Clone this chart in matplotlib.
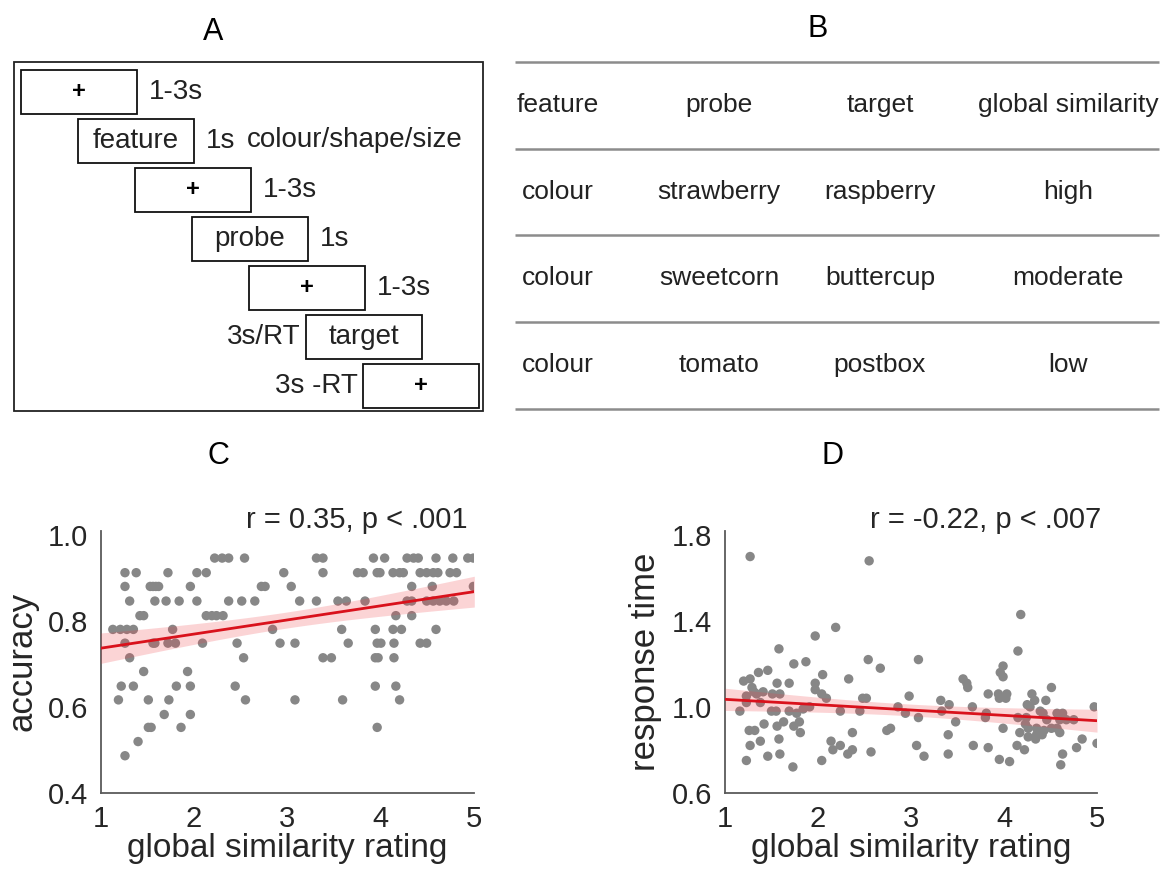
import numpy as np
import matplotlib
matplotlib.use('Agg')
import matplotlib.pyplot as plt
from matplotlib.patches import Rectangle

plt.rcParams['font.family'] = ['Liberation Sans', 'DejaVu Sans']

# ---- panel B table
table_rows = [
    ['feature', 'probe', 'target', 'global similarity'],
    ['colour', 'strawberry', 'raspberry', 'high'],
    ['colour', 'sweetcorn', 'buttercup', 'moderate'],
    ['colour', 'tomato', 'postbox', 'low'],
]

# ---- panel A trial sequence (box label, duration text left/right of box)
seq_labels = ['+', 'feature', '+', 'probe', '+', 'target', '+']
seq_durations = ['1-3s', '1s', '1-3s', '1s', '1-3s', '3s/RT', '3s -RT']
seq_side = ['right', 'right', 'right', 'right', 'right', 'left', 'left']

# ---- panel C: global similarity rating vs accuracy
sim_c = [2.22, 2.30, 2.37, 2.54, 3.31, 3.38, 3.92, 4.04, 4.28, 4.35, 4.40, 4.59, 4.77, 4.93, 4.99,
         1.26, 1.38, 1.72, 2.03, 2.13, 2.96, 3.38, 3.75, 3.81, 3.96, 3.99, 4.13, 4.20, 4.24, 4.42, 4.49, 4.56, 4.61, 4.74, 4.81,
         1.26, 1.53, 1.56, 1.59, 1.62, 1.96, 2.72, 2.76, 3.04, 4.33, 4.55, 4.99,
         1.31, 1.58, 1.70, 1.84, 2.03, 2.37, 2.51, 2.65, 3.13, 3.31, 3.54, 3.63, 3.83, 4.28, 4.33, 4.49, 4.56, 4.63, 4.70, 4.78,
         1.42, 1.46, 2.13, 2.19, 2.24, 2.31, 4.16, 4.33,
         1.13, 1.21, 1.28, 1.35, 1.77, 2.84, 3.58, 3.94, 4.13, 4.22, 4.59,
         1.26, 1.56, 1.58, 1.72, 1.80, 2.09, 2.46, 2.92, 3.08, 3.65, 3.96, 4.00, 4.14, 4.42, 4.49,
         1.31, 2.53, 3.38, 3.47, 3.94, 3.97, 4.14,
         1.46, 1.93,
         1.22, 1.35, 1.81, 1.96, 2.44, 3.94, 4.16,
         1.19, 1.51, 1.73, 2.55, 3.08, 3.59, 4.20,
         1.68, 1.96,
         1.51, 1.54, 1.86, 3.96,
         1.40,
         1.26]
acc_c = [0.946] * 15 + [0.912] * 20 + [0.880] * 12 + [0.846] * 20 + [0.812] * 8 + \
        [0.780] * 11 + [0.748] * 15 + [0.714] * 7 + [0.682] * 2 + [0.648] * 7 + \
        [0.616] * 7 + [0.582] * 2 + [0.552] * 4 + [0.519] * 1 + [0.486] * 1

# ---- panel D: global similarity rating vs response time
sim_d = [1.27, 2.55, 2.19, 1.97, 1.58, 2.54, 1.74, 1.87, 2.67, 3.08, 1.36, 1.46, 1.20, 1.27, 2.05,
         2.33, 1.56, 1.69, 1.97, 1.97, 1.29, 1.31, 1.34, 1.41, 1.51, 1.59, 1.23, 1.23, 2.04, 2.09,
         1.38, 2.48, 2.52, 2.98, 2.86, 1.16, 1.50, 1.55, 1.69, 1.77, 1.84, 1.91, 2.24, 2.45, 2.94,
         3.08, 1.42, 1.56, 1.63, 1.74, 1.80, 1.26, 1.32, 1.81, 2.37, 2.74, 2.78, 1.58, 1.27, 1.38,
         2.14, 2.24, 2.16, 2.32, 2.37, 3.06, 1.23, 1.46, 1.59, 2.04, 2.57, 1.73,
         4.18, 4.15, 3.99, 3.96, 3.99, 3.56, 3.60, 3.61, 4.51, 3.83, 3.94, 4.03, 3.95, 4.02, 4.30,
         3.32, 3.41, 4.33, 4.45, 4.28, 4.25, 4.97, 3.66, 3.33, 3.81, 3.80, 4.15, 4.24, 4.39, 4.42,
         4.46, 4.57, 4.63, 4.60, 4.67, 4.75, 3.48, 4.23, 4.17, 4.26, 3.99, 4.35, 4.43, 4.51, 4.57,
         4.60, 3.40, 4.26, 4.34, 4.41, 4.35, 3.14, 4.84, 4.78, 5.00, 3.67, 3.83, 4.14, 4.22, 3.40,
         3.95, 4.06, 4.63, 4.61]
rt_d = [1.70, 1.68, 1.37, 1.33, 1.27, 1.22, 1.20, 1.21, 1.18, 1.22, 1.16, 1.17, 1.12, 1.13, 1.15,
        1.13, 1.11, 1.11, 1.11, 1.08, 1.09, 1.07, 1.06, 1.07, 1.06, 1.06, 1.05, 1.02, 1.06, 1.04,
        1.02, 1.04, 1.04, 1.05, 1.00, 0.98, 0.98, 0.98, 0.98, 0.97, 0.99, 1.00, 0.98, 0.98, 0.97,
        0.95, 0.92, 0.91, 0.93, 0.91, 0.93, 0.89, 0.89, 0.88, 0.88, 0.89, 0.90, 0.85, 0.82, 0.84,
        0.84, 0.82, 0.80, 0.78, 0.80, 0.82, 0.75, 0.77, 0.78, 0.75, 0.79, 0.72,
        1.43, 1.26, 1.19, 1.16, 1.14, 1.13, 1.11, 1.09, 1.09, 1.06, 1.06, 1.06, 1.04, 1.04, 1.06,
        1.03, 1.01, 1.03, 1.03, 1.00, 1.01, 1.00, 1.00, 0.98, 0.97, 0.95, 0.95, 0.95, 0.98, 0.97,
        0.94, 0.97, 0.97, 0.94, 0.94, 0.94, 0.93, 0.92, 0.88, 0.90, 0.90, 0.90, 0.89, 0.90, 0.90,
        0.88, 0.87, 0.86, 0.85, 0.87, 0.87, 0.77, 0.85, 0.81, 0.83, 0.82, 0.81, 0.82, 0.80, 0.78,
        0.755, 0.745, 0.78, 0.73]

W, H = 1166, 873
fig = plt.figure(figsize=(W / 100, H / 100), dpi=100)
bg = fig.add_axes([0, 0, 1, 1])
bg.set_xlim(0, W)
bg.set_ylim(H, 0)
bg.axis('off')

# panel letters
for lab, (tx, ty) in zip('ABCD', [(213, 32), (818, 29), (218, 456), (832, 456)]):
    bg.text(tx, ty, lab, fontsize=22, ha='center', va='center')

# ---- panel A
bg.add_patch(Rectangle((13.5, 62), 469, 348.5, fill=False, ec='#222222', lw=1.3))
bw, bh = 116, 44
for i, (lab, dur, side) in enumerate(zip(seq_labels, seq_durations, seq_side)):
    x0 = 21 + i * 57
    y0 = 70 + i * 49
    bg.add_patch(Rectangle((x0, y0), bw, bh, fill=False, ec='#111111', lw=1.3))
    cy = y0 + bh / 2
    if lab == '+':
        bg.text(x0 + bw / 2, cy, lab, fontsize=17, fontweight='bold', ha='center', va='center')
    else:
        bg.text(x0 + bw / 2, cy, lab, fontsize=20, ha='center', va='center', color='#222222')
    if side == 'right':
        bg.text(x0 + bw + 12, cy, dur, fontsize=20, ha='left', va='center', color='#222222')
    else:
        bg.text(x0 - 5, cy, dur, fontsize=20, ha='right', va='center', color='#222222')
bg.text(247, 140, 'colour/shape/size', fontsize=20, ha='left', va='center', color='#222222')

# ---- panel B
line_y = [62, 148.5, 235, 321.5, 408.5]
bg.hlines(line_y, 515, 1159, color='#8c8c8c', lw=1.8)
col_x = [558, 719, 880, 1068]
for r, row in enumerate(table_rows):
    for c, txt in enumerate(row):
        bg.text(col_x[c], (line_y[r] + line_y[r + 1]) / 2, txt, fontsize=19,
                ha='center', va='center', color='#222222')


def fit_band(ax, x, y):
    x = np.asarray(x)
    y = np.asarray(y)
    b, a = np.polyfit(x, y, 1)
    xs = np.linspace(1, 5, 100)
    n = len(x)
    yhat = a + b * xs
    s = np.sqrt(((y - (a + b * x)) ** 2).sum() / (n - 2))
    se = s * np.sqrt(1.0 / n + (xs - x.mean()) ** 2 / ((x - x.mean()) ** 2).sum())
    ax.fill_between(xs, yhat - 1.98 * se, yhat + 1.98 * se, color='#f03c44', alpha=0.22, lw=0, zorder=3)
    ax.plot(xs, yhat, color='#d9121c', lw=2, zorder=4)


def style(ax):
    ax.set_facecolor('none')
    for s in ['top', 'right']:
        ax.spines[s].set_visible(False)
    for s in ['left', 'bottom']:
        ax.spines[s].set_color('#5a5a5a')
        ax.spines[s].set_linewidth(1.3)
    ax.tick_params(length=0, labelsize=21, pad=9, labelcolor='#262626')
    ax.set_xlim(1, 5)
    ax.set_xticks([1, 2, 3, 4, 5])
    ax.set_xlabel('global similarity rating', fontsize=24, color='#262626', labelpad=0)


# ---- panel C
axC = fig.add_axes([100.7 / W, (H - 792.7) / H, 373.6 / W, 261.7 / H])
axC.scatter(sim_c, acc_c, s=46, color='#878787', edgecolors='none', zorder=2)
fit_band(axC, sim_c, acc_c)
style(axC)
axC.set_ylim(0.4, 1.009)
axC.set_yticks([0.4, 0.6, 0.8, 1.0])
axC.set_yticklabels(['0.4', '0.6', '0.8', '1.0'])
axC.set_ylabel('accuracy', fontsize=25, color='#262626', labelpad=7)
bg.text(467, 520, 'r = 0.35, p < .001', fontsize=21, ha='right', va='center', color='#262626')

# ---- panel D
axD = fig.add_axes([725 / W, (H - 792.7) / H, 372 / W, 261.7 / H])
axD.scatter(sim_d, rt_d, s=46, color='#878787', edgecolors='none', zorder=2)
fit_band(axD, sim_d, rt_d)
style(axD)
axD.set_ylim(0.6, 1.819)
axD.set_yticks([0.6, 1.0, 1.4, 1.8])
axD.set_yticklabels(['0.6', '1.0', '1.4', '1.8'])
axD.set_ylabel('response time', fontsize=25, color='#262626', labelpad=7)
bg.text(1101, 520, 'r = -0.22, p < .007', fontsize=21, ha='right', va='center', color='#262626')

fig.savefig('out.png', dpi=100)
